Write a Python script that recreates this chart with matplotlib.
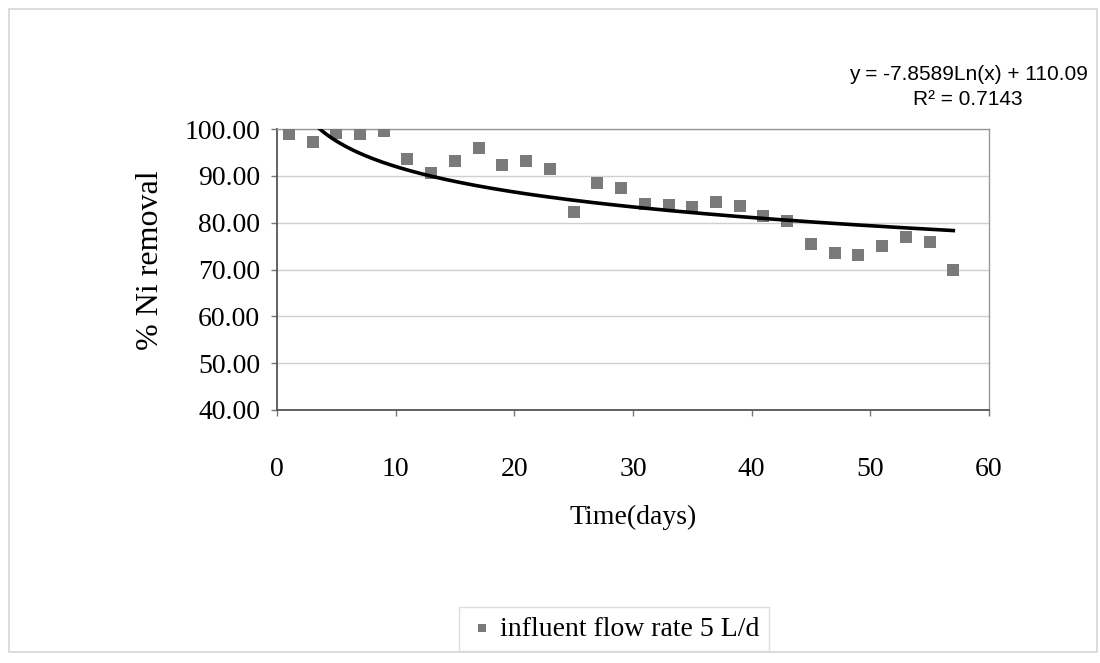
import numpy as np
import matplotlib.pyplot as plt
from matplotlib.patches import Rectangle

# Datos: remoción de Ni a lo largo del tiempo
dias = [1, 3, 5, 7, 9, 11, 13, 15, 17, 19, 21, 23, 25, 27, 29,
        31, 33, 35, 37, 39, 41, 43, 45, 47, 49, 51, 53, 55, 57]
remocion_ni = [99.0, 97.3, 99.1, 99.0, 99.5, 93.7, 90.7, 93.2, 95.9, 92.4,
               93.2, 91.4, 82.2, 88.5, 87.5, 84.0, 83.7, 83.3, 84.4, 83.5,
               81.5, 80.4, 75.4, 73.6, 73.1, 75.0, 77.0, 75.8, 69.9]

# Coeficientes de la línea de tendencia logarítmica
pendiente = -7.8589
intercepto = 110.09
r2 = 0.7143

etiqueta_serie = "influent flow rate 5 L/d"
ticks_x = [0, 10, 20, 30, 40, 50, 60]
ticks_y = [40, 50, 60, 70, 80, 90, 100]

serif = ['Liberation Serif', 'DejaVu Serif']
plt.rcParams['font.family'] = serif

fig = plt.figure(figsize=(11, 6.63), dpi=100)
ax = fig.add_axes([0.2518, 0.3816, 0.899 - 0.2518, 0.8054 - 0.3816])

# Marco exterior del gráfico
fig.patches.append(Rectangle((9 / 1100, 1 - 652 / 663), (1097 - 9) / 1100, (652 - 9) / 663,
                             transform=fig.transFigure, fill=False,
                             edgecolor='#d6d6d6', linewidth=1.2))

ax.scatter(dias, remocion_ni, marker='s', s=72, color='#7a7a7a',
           linewidths=0, zorder=3, label=etiqueta_serie)

# Línea de tendencia
xt = np.linspace(min(dias), max(dias), 300)
yt = pendiente * np.log(xt) + intercepto
ax.plot(xt, yt, color='black', linewidth=2.6, zorder=4)

ax.set_xlim(0, 60)
ax.set_ylim(40, 100)
ax.set_xticks(ticks_x)
ax.set_yticks(ticks_y)
ax.set_yticklabels([f"{v:.2f}" for v in ticks_y])
ax.yaxis.grid(True, color='#d0d0d0', linewidth=1)
ax.set_axisbelow(True)

for lado in ['left', 'bottom']:
    ax.spines[lado].set_color('#555555')
    ax.spines[lado].set_linewidth(1.3)
for lado in ['top', 'right']:
    ax.spines[lado].set_color('#999999')
    ax.spines[lado].set_linewidth(1.0)

ax.tick_params(axis='x', direction='out', length=4, width=1, color='#777777',
               labelsize=20, pad=30)
ax.tick_params(axis='y', direction='out', length=4, width=1, color='#777777',
               labelsize=20, pad=8)

fig.text(633 / 1100, 1 - 517 / 663, "Time(days)", ha='center', va='center', fontsize=20)
fig.text(150 / 1100, 1 - 260 / 663, "% Ni removal", ha='center', va='center',
         rotation=90, fontsize=23)

# Ecuación de la tendencia
fig.text(968 / 1100, 1 - 87 / 663,
         f"y = {pendiente:.4f}Ln(x) + {intercepto:.2f}\nR² = {r2:.4f}",
         ha='center', va='center', multialignment='center', fontsize=15,
         family=['Liberation Sans Narrow', 'Liberation Sans', 'DejaVu Sans'],
         linespacing=1.4)

leg = fig.legend(loc='center', bbox_to_anchor=(614 / 1100, 1 - 629 / 663),
                 fontsize=20, frameon=True, fancybox=False, handletextpad=0.2,
                 handlelength=0.9, borderpad=0.35, markerscale=0.75)
leg.get_frame().set_edgecolor('#d6d6d6')
leg.get_frame().set_linewidth(1.0)

fig.savefig('out.png', dpi=100)
